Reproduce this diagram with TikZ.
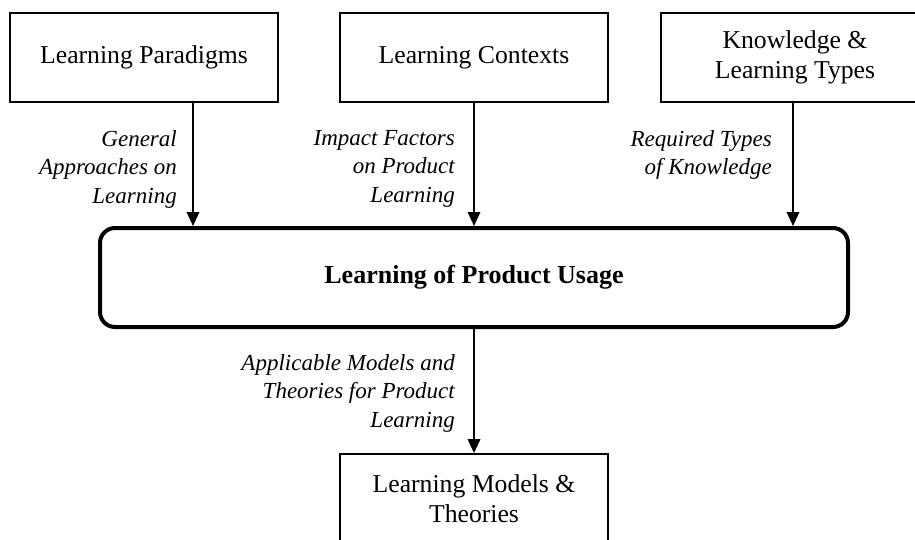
\documentclass[tikz,border=0pt]{standalone}
\usepackage{fontspec}
\setmainfont{Liberation Serif}
\usetikzlibrary{arrows.meta}
\begin{document}
\begin{tikzpicture}[x=1pt,y=-1pt,
  topic/.style={draw, line width=1.8pt, minimum width=268pt, minimum height=89pt,
    inner sep=0pt, align=center, font=\fontsize{25.7}{29.5}\selectfont},
  core/.style={draw, line width=4pt, rounded corners=15pt, minimum width=748pt,
    minimum height=99pt, inner sep=0pt, font=\fontsize{26}{30}\selectfont\bfseries},
  flow/.style={line width=1.8pt, -{Triangle[length=14pt,width=12.5pt]}},
  note/.style={inner sep=0pt, align=right, anchor=north east,
    font=\fontsize{23}{28.5}\selectfont\itshape}]
\useasboundingbox (0,0) rectangle (915,539);
\clip (0,0) rectangle (915,539);

% input topics
\node[topic] (par) at (144,57.5) {Learning Paradigms};
\node[topic] (ctx) at (474,57.5) {Learning Contexts};
\node[topic] (kno) at (795,57.5) {Knowledge \&\\Learning Types};

% central topic
\node[core] (use) at (474,277.5) {Learning of Product Usage};

% output topic
\node[topic] (mod) at (474,498.5) {Learning Models \&\\Theories};

% connector columns
\coordinate (c1) at (193,0);
\coordinate (c2) at (474,0);
\coordinate (c3) at (793,0);

\draw[flow] (par.south -| c1) -- (use.north -| c1);
\draw[flow] (ctx.south -| c2) -- (use.north -| c2);
\draw[flow] (kno.south -| c3) -- (use.north -| c3);
\draw[flow] (use.south -| c2) -- (mod.north -| c2);

% connector labels
\node[note] (n1) at (177,130) {General\\Approaches on\\Learning};
\node[note] (n2) at (455,130) {Impact Factors\\on Product\\Learning};
\node[note] (n3) at (772,130) {Required Types\\of Knowledge};
\node[note] (n4) at (455,354) {Applicable Models and\\Theories for Product\\Learning};
\end{tikzpicture}
\end{document}
